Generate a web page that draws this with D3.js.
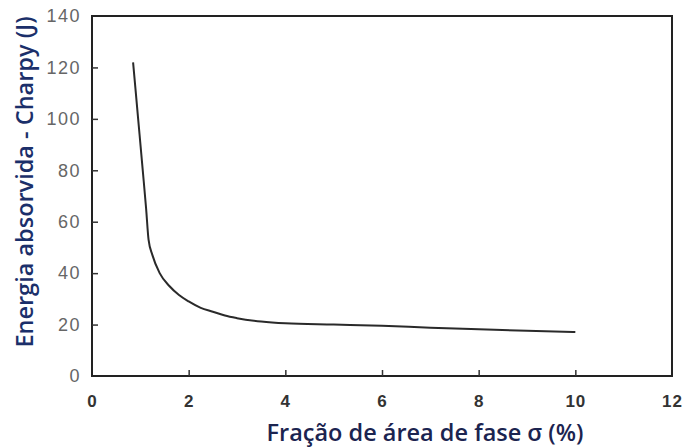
<!DOCTYPE html>
<html>
<head>
<meta charset="utf-8">
<script src="https://cdn.jsdelivr.net/npm/d3@7"></script>
<style>
  body { margin: 0; background: #fff; }
  svg text { font-family: "Liberation Sans", Arial, sans-serif; }
</style>
</head>
<body>
<svg id="chart"></svg>
<script>
// fraction of sigma phase (%) vs absorbed Charpy energy (J)
const sigmaPct = [0.85, 0.95, 1.05, 1.12, 1.17, 1.25, 1.4, 1.6, 1.8, 2.0, 2.25, 2.5, 2.75, 3.0, 3.5, 4.0, 5.0, 6.0, 7.0, 8.0, 9.0, 10.0];
const energyJ  = [122, 101, 80, 65, 53, 47, 40, 35, 31.5, 29, 26.5, 25, 23.5, 22.5, 21.2, 20.5, 20, 19.5, 18.8, 18.2, 17.6, 17.1];
const xTicks = [0, 2, 4, 6, 8, 10, 12];
const yTicks = [0, 20, 40, 60, 80, 100, 120, 140];

const W = 685, H = 447;
const margin = {top: 16, right: 13, bottom: 71, left: 92};

const svg = d3.select("#chart").attr("width", W).attr("height", H);

const x = d3.scaleLinear().domain([0, 12]).range([margin.left, W - margin.right]);
const y = d3.scaleLinear().domain([0, 140]).range([H - margin.bottom, margin.top]);

// frame
svg.append("rect")
    .attr("x", x(0)).attr("y", y(140))
    .attr("width", x(12) - x(0)).attr("height", y(0) - y(140))
    .attr("fill", "none").attr("stroke", "#222").attr("stroke-width", 2);

// axes with inward ticks
const xAxis = svg.append("g")
    .attr("transform", `translate(0,${y(0)})`)
    .call(d3.axisBottom(x).tickValues(xTicks).tickSize(-6).tickPadding(19));
const yAxis = svg.append("g")
    .attr("transform", `translate(${x(0)},0)`)
    .call(d3.axisLeft(y).tickValues(yTicks).tickSize(-6).tickPadding(11));

[xAxis, yAxis].forEach(g => {
    g.select(".domain").remove();
    g.selectAll(".tick line").attr("stroke", "#333").attr("stroke-width", 1.5);
});
xAxis.selectAll(".tick").filter(d => d === 0 || d === 12).select("line").remove();
yAxis.selectAll(".tick").filter(d => d === 0 || d === 140).select("line").remove();

yAxis.selectAll(".tick text")
    .attr("fill", "#666")
    .style("font-size", "18px")
    .style("letter-spacing", "1.5px");
xAxis.selectAll(".tick text")
    .attr("fill", "#333")
    .style("font-size", "17px")
    .style("font-weight", "bold")
    .style("letter-spacing", "1px");

// curve
const pts = sigmaPct.map((v, i) => [v, energyJ[i]]);
const line = d3.line()
    .x(d => x(d[0]))
    .y(d => y(d[1]))
    .curve(d3.curveMonotoneX);

svg.append("path")
    .datum(pts)
    .attr("d", line)
    .attr("fill", "none")
    .attr("stroke", "#2a2a2a")
    .attr("stroke-width", 2);

// axis titles
svg.append("text")
    .attr("x", 425)
    .attr("y", 441)
    .attr("text-anchor", "middle")
    .attr("fill", "#1b2450")
    .style("font-family", "'Open Sans', sans-serif")
    .style("font-size", "23.5px")
    .style("font-weight", "600")
    .text("Fração de área de fase σ (%)");

svg.append("text")
    .attr("transform", "translate(33,182) rotate(-90)")
    .attr("text-anchor", "middle")
    .attr("fill", "#1b2f6a")
    .style("font-family", "'Open Sans', sans-serif")
    .style("font-size", "23.5px")
    .style("font-weight", "600")
    .text("Energia absorvida - Charpy (J)");
</script>
</body>
</html>
